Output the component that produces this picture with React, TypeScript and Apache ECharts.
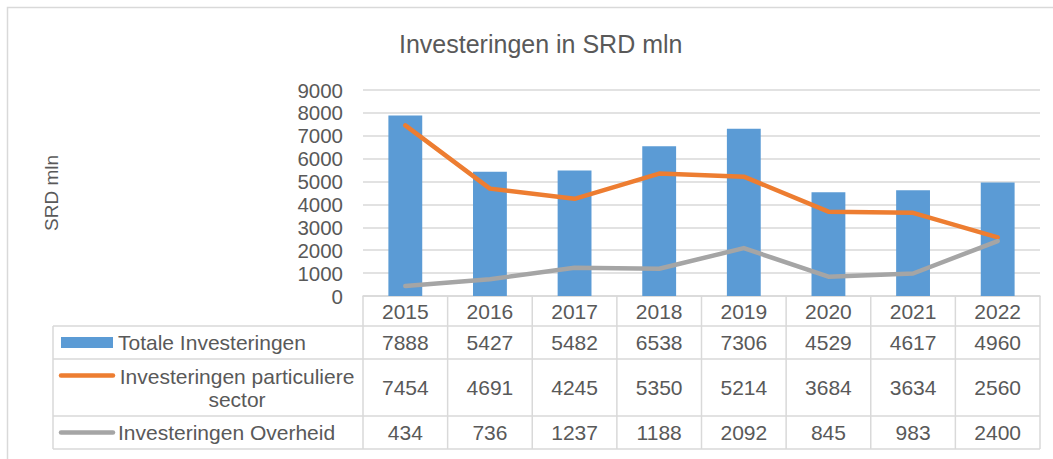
import React, { useEffect, useRef } from "react";
import * as echarts from "echarts";

const years = ["2015", "2016", "2017", "2018", "2019", "2020", "2021", "2022"];
const totale = [7888, 5427, 5482, 6538, 7306, 4529, 4617, 4960];
const particulier = [7454, 4691, 4245, 5350, 5214, 3684, 3634, 2560];
const overheid = [434, 736, 1237, 1188, 2092, 845, 983, 2400];
const seriesNames = ["Totale Investeringen", "Investeringen particuliere sector", "Investeringen Overheid"];
const colors = ["#5B9BD5", "#ED7D31", "#A5A5A5"];
const yMax = 9000;
const yStep = 1000;

const W = 1053;
const H = 459;
const gridLeft = 363;
const gridRight = 1040;
const gridTop = 90;
const axisY = 296;
const rowLines = [326, 359, 416, 449];
const tableLeft = 53;
const textColor = "#595959";
const lineColor = "#D9D9D9";
const font = "'Liberation Sans', Arial, sans-serif";

export default function App() {
  const ref = useRef<HTMLDivElement>(null);
  useEffect(() => {
    if (!ref.current) return;
    const chart = echarts.init(ref.current, null, { renderer: "svg" });
    const colW = (gridRight - gridLeft) / years.length;
    const g: any[] = [];
    g.push({ type: "rect", shape: { x: 7.5, y: 7.5, width: W + 50, height: H + 50 }, style: { fill: "none", stroke: lineColor, lineWidth: 1.5 }, silent: true });
    rowLines.forEach((y) => {
      g.push({ type: "line", shape: { x1: tableLeft, y1: y, x2: gridRight, y2: y }, style: { stroke: lineColor, lineWidth: 1.5 } });
    });
    g.push({ type: "line", shape: { x1: tableLeft, y1: rowLines[0], x2: tableLeft, y2: rowLines[3] }, style: { stroke: lineColor, lineWidth: 1.5 } });
    for (let i = 0; i <= years.length; i++) {
      const x = gridLeft + i * colW;
      g.push({ type: "line", shape: { x1: x, y1: axisY, x2: x, y2: rowLines[3] }, style: { stroke: lineColor, lineWidth: 1.5 } });
    }
    const rowCenters = [(axisY + rowLines[0]) / 2 + 0.5, (rowLines[0] + rowLines[1]) / 2, (rowLines[1] + rowLines[2]) / 2, (rowLines[2] + rowLines[3]) / 2];
    const rows = [years, totale, particulier, overheid];
    rows.forEach((row, r) => {
      row.forEach((v, i) => {
        g.push({
          type: "text",
          x: gridLeft + (i + 0.5) * colW,
          y: rowCenters[r],
          style: { text: String(v), fill: textColor, font: `21px ${font}`, textAlign: "center", textVerticalAlign: "middle" },
        });
      });
    });
    g.push({ type: "rect", shape: { x: 61, y: 337, width: 52, height: 11 }, style: { fill: colors[0] } });
    g.push({ type: "line", shape: { x1: 61, y1: rowCenters[2] - 12, x2: 113, y2: rowCenters[2] - 12 }, style: { stroke: colors[1], lineWidth: 4.5, lineCap: "round" } });
    g.push({ type: "line", shape: { x1: 61, y1: rowCenters[3], x2: 113, y2: rowCenters[3] }, style: { stroke: colors[2], lineWidth: 4.5, lineCap: "round" } });
    g.push({ type: "text", x: 118, y: rowCenters[1], style: { text: seriesNames[0], fill: textColor, font: `21px ${font}`, textAlign: "left", textVerticalAlign: "middle" } });
    g.push({ type: "text", x: 237, y: rowCenters[2], style: { text: "Investeringen particuliere\nsector", fill: textColor, font: `21px ${font}`, lineHeight: 23, textAlign: "center", textVerticalAlign: "middle" } });
    g.push({ type: "text", x: 118, y: rowCenters[3], style: { text: seriesNames[2], fill: textColor, font: `21px ${font}`, textAlign: "left", textVerticalAlign: "middle" } });

    chart.setOption({
      animation: false,
      backgroundColor: "#fff",
      title: {
        text: "Investeringen in SRD mln",
        left: 394,
        top: 26,
        textStyle: { color: textColor, fontFamily: font, fontSize: 25, fontWeight: "normal" },
      },
      grid: { left: gridLeft, right: W - gridRight, top: gridTop, bottom: H - axisY, containLabel: false },
      xAxis: {
        type: "category",
        data: years,
        axisLabel: { show: false },
        axisTick: { show: false },
        axisLine: { show: true, lineStyle: { color: lineColor, width: 1.5 } },
      },
      yAxis: {
        type: "value",
        min: 0,
        max: yMax,
        interval: yStep,
        name: "SRD mln",
        nameLocation: "middle",
        nameRotate: 90,
        nameGap: gridLeft - 61,
        nameTextStyle: { color: textColor, fontFamily: font, fontSize: 19 },
        axisLabel: { color: textColor, fontFamily: font, fontSize: 20.5, margin: 20, formatter: (v: number) => String(v) },
        axisLine: { show: false },
        axisTick: { show: false },
        splitLine: { lineStyle: { color: lineColor, width: 1.5 } },
      },
      series: [
        { name: seriesNames[0], type: "bar", data: totale, barWidth: "40%", itemStyle: { color: colors[0] } },
        { name: seriesNames[1], type: "line", data: particulier, symbol: "none", lineStyle: { color: colors[1], width: 4.5, cap: "round", join: "round" } },
        { name: seriesNames[2], type: "line", data: overheid, symbol: "none", lineStyle: { color: colors[2], width: 4.5, cap: "round", join: "round" } },
      ],
      graphic: g,
    });
    return () => chart.dispose();
  }, []);
  return <div ref={ref} style={{ position: "fixed", left: 0, top: 0, width: W, height: H }} />;
}
